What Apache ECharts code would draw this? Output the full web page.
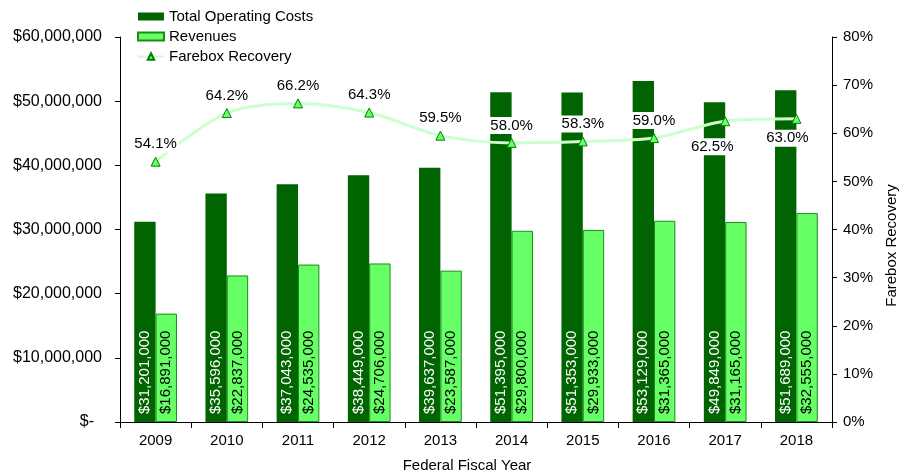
<!DOCTYPE html>
<html><head><meta charset="utf-8">
<script src="https://cdn.jsdelivr.net/npm/echarts@6/dist/echarts.min.js"></script>
<style>html,body{margin:0;padding:0;background:#fff}#c{width:912px;height:473px}</style>
</head><body><div id="c"></div>
<script>
const years = ['2009','2010','2011','2012','2013','2014','2015','2016','2017','2018'];
const totalCosts = [31201000,35596000,37043000,38449000,39637000,51395000,51353000,53129000,49849000,51689000];
const revenues = [16891000,22837000,24535000,24706000,23587000,29800000,29933000,31365000,31165000,32555000];
const farebox = [54.1,64.2,66.2,64.3,59.5,58.0,58.3,59.0,62.5,63.0];
const leftTicks = ['$-','$10,000,000','$20,000,000','$30,000,000','$40,000,000','$50,000,000','$60,000,000'];

const FONT = 'Liberation Sans, Arial, sans-serif';
const fmt = v => '$' + v.toLocaleString('en-US');
const chart = echarts.init(document.getElementById('c'));
const lineData = farebox.map((v,i) => {
  const d = {value: v};
  if (i === 8) d.label = {position: 'bottom', distance: 12, offset: [-13, 0]};
  if (i === 9) d.label = {position: 'bottom', distance: 6, offset: [-9, 0]};
  return d;
});
chart.setOption({
  animation: false,
  textStyle: {fontFamily: FONT},
  grid: {left: 120, right: 80, top: 37, bottom: 51, containLabel: false, outerBoundsMode: 'none'},
  legend: {
    orient: 'vertical', left: 132, top: 4, itemGap: 5, itemWidth: 26, itemHeight: 8,
    textStyle: {fontSize: 15, color: '#000', fontFamily: FONT},
    data: [
      {name: 'Total Operating Costs', icon: 'rect'},
      {name: 'Revenues', icon: 'rect'},
      {name: 'Farebox Recovery'}
    ]
  },
  xAxis: {
    type: 'category', data: years,
    name: 'Federal Fiscal Year', nameLocation: 'middle', nameGap: 36,
    nameTextStyle: {fontSize: 15, color: '#000', padding: [0, 18, 0, 0]},
    axisLine: {lineStyle: {color: '#000'}},
    axisTick: {show: true, length: 6, lineStyle: {color: '#000'}},
    axisLabel: {fontSize: 15, color: '#000', margin: 11}
  },
  yAxis: [
    {
      type: 'value', min: 0, max: 60000000, interval: 10000000,
      axisLine: {show: true, lineStyle: {color: '#000'}},
      axisTick: {show: true, length: 5, lineStyle: {color: '#000'}},
      splitLine: {show: false},
      axisLabel: {fontSize: 16, color: '#000', margin: 18,
        formatter: v => v === 0 ? '{z|' + leftTicks[0] + '}' : leftTicks[Math.round(v/10000000)],
        rich: {z: {fontSize: 16, color: '#000', padding: [0, 8, 0, 0]}}}
    },
    {
      type: 'value', min: 0, max: 80, interval: 10, position: 'right',
      name: 'Farebox Recovery', nameLocation: 'middle', nameGap: 52, nameRotate: 90,
      nameTextStyle: {fontSize: 15, color: '#000', padding: [0, 32, 0, 0]},
      axisLine: {show: true, lineStyle: {color: '#000'}},
      axisTick: {show: true, length: 5, lineStyle: {color: '#000'}},
      splitLine: {show: false},
      axisLabel: {fontSize: 15, color: '#000', margin: 11, formatter: v => v + '%'}
    }
  ],
  series: [
    {
      name: 'Total Operating Costs', type: 'bar', data: totalCosts,
      barWidth: '30%', barGap: '0%',
      itemStyle: {color: '#006400'},
      label: {show: true, position: 'insideBottom', rotate: 90, align: 'left', verticalAlign: 'middle',
        distance: 8, fontSize: 15, color: '#fff', formatter: p => fmt(p.value)}
    },
    {
      name: 'Revenues', type: 'bar', data: revenues,
      barWidth: '30%',
      itemStyle: {color: '#66ff66', borderColor: '#1a8c1a', borderWidth: 1},
      label: {show: true, position: 'insideBottom', rotate: 90, align: 'left', verticalAlign: 'middle',
        distance: 8, fontSize: 15, color: '#000', formatter: p => fmt(p.value)}
    },
    {
      name: 'Farebox Recovery', type: 'line', yAxisIndex: 1, data: lineData,
      smooth: 0.3, z: 5,
      lineStyle: {color: '#ccffcc', width: 3},
      symbol: 'triangle', symbolSize: 9,
      itemStyle: {color: '#66ff66', borderColor: '#008000', borderWidth: 1},
      label: {show: true, position: 'top', distance: 4, fontSize: 15, color: '#000',
        backgroundColor: '#fff', padding: [1, 2],
        formatter: p => p.value.toFixed(1) + '%'}
    }
  ]
});
</script></body></html>
